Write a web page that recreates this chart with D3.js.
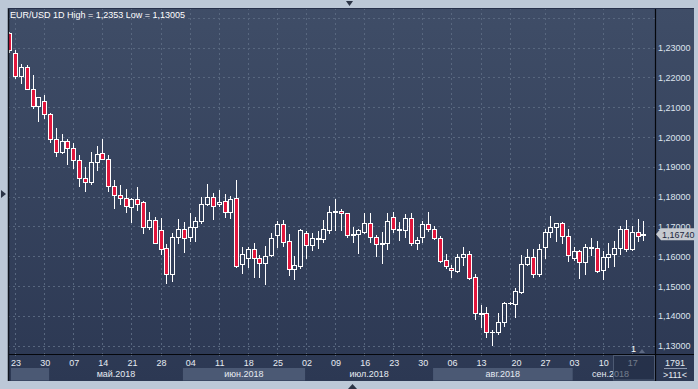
<!DOCTYPE html>
<html>
<head>
<meta charset="utf-8">
<script src="https://cdn.jsdelivr.net/npm/d3@7"></script>
<style>
  body { margin: 0; background: #bcc8d7; }
  svg { display: block; font-family: "Liberation Sans", Arial, sans-serif; }
</style>
</head>
<body>
<svg id="chart" width="698" height="389"></svg>
<script>
// EUR/USD daily candles, 20 Apr - 19 Sep 2018
var openP = [1.2348,1.2281,1.2205,1.2234,1.2163,1.2105,1.2122,1.2079,1.1995,1.1950,
  1.1987,1.1962,1.1923,1.1864,1.1850,1.1915,1.1948,1.1928,1.1836,1.1807,
  1.1797,1.1766,1.1792,1.1781,1.1697,1.1721,1.1688,1.1626,1.1539,1.1663,
  1.1693,1.1663,1.1699,1.1718,1.1774,1.1799,1.1774,1.1785,1.1747,1.1794,
  1.1573,1.1595,1.1624,1.1593,1.1576,1.1604,1.1670,1.1708,1.1652,1.1556,
  1.1568,1.1677,1.1638,1.1657,1.1657,1.1688,1.1747,1.1751,1.1744,1.1671,
  1.1674,1.1682,1.1713,1.1663,1.1640,1.1643,1.1732,1.1693,1.1688,1.1730,
  1.1643,1.1663,1.1707,1.1693,1.1660,1.1587,1.1562,1.1552,1.1596,1.1609,
  1.1529,1.1407,1.1408,1.1344,1.1346,1.1378,1.1442,1.1438,1.1481,1.1573,
  1.1598,1.1539,1.1630,1.1680,1.1697,1.1710,1.1668,1.1593,1.1618,1.1581,
  1.1628,1.1626,1.1553,1.1596,1.1606,1.1626,1.1690,1.1624,1.1682,1.1670];
var highP = [1.2353,1.2292,1.2245,1.2241,1.2210,1.2135,1.2141,1.2081,1.2032,1.2010,
  1.1995,1.1979,1.1939,1.1898,1.1950,1.1971,1.1995,1.1939,1.1855,1.1839,
  1.1825,1.1795,1.1831,1.1785,1.1749,1.1732,1.1730,1.1641,1.1677,1.1725,
  1.1715,1.1746,1.1732,1.1799,1.1842,1.1811,1.1822,1.1808,1.1802,1.1855,
  1.1630,1.1632,1.1646,1.1604,1.1634,1.1679,1.1718,1.1721,1.1674,1.1600,
  1.1691,1.1685,1.1677,1.1684,1.1721,1.1768,1.1791,1.1760,1.1745,1.1697,
  1.1691,1.1746,1.1744,1.1671,1.1682,1.1744,1.1749,1.1715,1.1741,1.1744,
  1.1665,1.1719,1.1747,1.1701,1.1667,1.1609,1.1570,1.1606,1.1630,1.1618,
  1.1540,1.1436,1.1428,1.1354,1.1408,1.1447,1.1445,1.1495,1.1604,1.1623,
  1.1623,1.1641,1.1693,1.1735,1.1712,1.1715,1.1690,1.1630,1.1620,1.1641,
  1.1660,1.1651,1.1618,1.1646,1.1651,1.1701,1.1721,1.1701,1.1725,1.1718];
var lowP = [1.2285,1.2197,1.2183,1.2161,1.2096,1.2054,1.2065,1.1982,1.1937,1.1945,
  1.1911,1.1897,1.1836,1.1820,1.1842,1.1889,1.1925,1.1820,1.1762,1.1775,
  1.1749,1.1715,1.1755,1.1677,1.1691,1.1643,1.1606,1.1509,1.1517,1.1643,
  1.1615,1.1652,1.1652,1.1712,1.1772,1.1725,1.1770,1.1732,1.1727,1.1564,
  1.1544,1.1564,1.1531,1.1531,1.1506,1.1600,1.1630,1.1634,1.1537,1.1523,
  1.1559,1.1593,1.1620,1.1626,1.1648,1.1679,1.1688,1.1688,1.1663,1.1648,
  1.1611,1.1677,1.1648,1.1600,1.1576,1.1624,1.1682,1.1654,1.1663,1.1637,
  1.1623,1.1648,1.1685,1.1658,1.1581,1.1559,1.1529,1.1548,1.1572,1.1524,
  1.1388,1.1363,1.1330,1.13005,1.1338,1.1366,1.1440,1.1395,1.1478,1.1570,
  1.1529,1.1534,1.1595,1.1663,1.1652,1.1643,1.1585,1.1587,1.1528,1.1542,
  1.1604,1.1548,1.1523,1.1564,1.1568,1.1609,1.1618,1.1620,1.1651,1.1654];
var closeP = [1.2292,1.2205,1.2234,1.2163,1.2105,1.2133,1.2079,1.1995,1.1950,1.1987,
  1.1962,1.1923,1.1864,1.1850,1.1915,1.1943,1.1928,1.1836,1.1807,1.1797,
  1.1769,1.1792,1.1777,1.1697,1.1721,1.1646,1.1624,1.1539,1.1663,1.1693,
  1.1660,1.1699,1.1718,1.1775,1.1799,1.1769,1.1783,1.1747,1.1791,1.1568,
  1.1609,1.1624,1.1593,1.1576,1.1601,1.1660,1.1708,1.1648,1.1556,1.1570,
  1.1688,1.1638,1.1660,1.1660,1.1690,1.1747,1.1751,1.1744,1.1671,1.1674,
  1.1688,1.1713,1.1663,1.1640,1.1643,1.1719,1.1693,1.1688,1.1730,1.1643,
  1.1656,1.1707,1.1690,1.1660,1.1585,1.1568,1.1553,1.1596,1.1609,1.1526,
  1.1410,1.1408,1.1344,1.1345,1.1378,1.1442,1.1443,1.1483,1.1573,1.1596,
  1.1539,1.1623,1.1680,1.1697,1.1710,1.1668,1.1604,1.1618,1.1581,1.1630,
  1.1630,1.1551,1.1596,1.1607,1.1626,1.1690,1.1623,1.1682,1.1668,1.1674];

// week ticks (candle index) and their labels
var tickIdx = [1,6,11,16,21,26,31,36,41,46,51,56,61,66,71,76,81,87,92,97,102,107];
var tickLbl = ["23","30","07","14","21","28","04","11","18","25","02","09","16","23","30","06","13","20","27","03","10","17"];
var gridIdx = [1,6,11,16,21,26,31,36,41,46,51,56,61,66,71,76,81,86,92,97,102,107];
// months: first candle index of each
var monthStart = [0,7,30,51,73,97];
var monthLbl = ["","май.2018","июн.2018","июл.2018","авг.2018","сен.2018"];

var priceTicks = [1.13,1.14,1.15,1.16,1.17,1.18,1.19,1.20,1.21,1.22,1.23];
var gridPrices = [1.13,1.14,1.15,1.16,1.17,1.18,1.19,1.20,1.21,1.22,1.23,1.24];
var lastPrice = 1.16740;
var titleText = "EUR/USD 1D High = 1,2353 Low = 1,13005";

var plotL = 8, plotR = 655, plotT = 8, plotB = 354, panelR = 694, panelB = 381;
var n = openP.length;
var fmt = function(v) { return v.toFixed(5).replace(".", ","); };

var x = d3.scaleLinear().domain([0, n - 1]).range([9.3, 643.4]);
var y = d3.scaleLinear().domain([1.13, 1.23]).range([345.6, 47.7]);
var step = x(1) - x(0);

var svg = d3.select("#chart");
var defs = svg.append("defs");
var grad = defs.append("linearGradient").attr("id", "bg")
    .attr("gradientUnits", "userSpaceOnUse")
    .attr("x1", 0).attr("y1", plotT).attr("x2", 0).attr("y2", panelB);
grad.append("stop").attr("offset", 0).attr("stop-color", "#3f4d67");
grad.append("stop").attr("offset", 1).attr("stop-color", "#2c3853");
defs.append("clipPath").attr("id", "plotClip")
  .append("rect").attr("x", plotL + 1).attr("y", plotT).attr("width", plotR - plotL - 1).attr("height", plotB - plotT);

// outer frame and panel
svg.append("rect").attr("width", 698).attr("height", 389).attr("fill", "#bcc8d7");
svg.append("rect").attr("x", plotL).attr("y", plotT).attr("width", panelR - plotL).attr("height", panelB - plotT)
    .attr("fill", "url(#bg)");

// grid
var grid = svg.append("g").attr("clip-path", "url(#plotClip)")
    .attr("stroke", "#58677f").attr("stroke-width", 1).attr("stroke-dasharray", "2,3");
grid.selectAll(".h").data(gridPrices).enter().append("line")
    .attr("x1", plotL).attr("x2", plotR)
    .attr("y1", function(d) { return Math.round(y(d)) + 0.5; })
    .attr("y2", function(d) { return Math.round(y(d)) + 0.5; });
grid.selectAll(".v").data(gridIdx).enter().append("line")
    .attr("y1", plotT).attr("y2", plotB)
    .attr("x1", function(d) { return Math.round(x(d)) + 0.5; })
    .attr("x2", function(d) { return Math.round(x(d)) + 0.5; });
// grid continues into the date strip
var grid2 = svg.append("g").attr("stroke", "#58677f").attr("stroke-dasharray", "2,3");
grid2.selectAll("line").data(gridIdx).enter().append("line")
    .attr("y1", plotB).attr("y2", plotB + 2)
    .attr("x1", function(d) { return Math.round(x(d)) + 0.5; })
    .attr("x2", function(d) { return Math.round(x(d)) + 0.5; });

// candles
var candles = svg.append("g").attr("clip-path", "url(#plotClip)");
var idx = d3.range(n);
candles.selectAll(".wick").data(idx).enter().append("line")
    .attr("stroke", "#ffffff").attr("stroke-width", 1)
    .attr("x1", function(i) { return Math.round(x(i)) + 0.5; })
    .attr("x2", function(i) { return Math.round(x(i)) + 0.5; })
    .attr("y1", function(i) { return Math.round(y(highP[i])); })
    .attr("y2", function(i) { return Math.round(y(lowP[i])) + 1; });
candles.selectAll(".body").data(idx).enter().append("rect")
    .attr("x", function(i) { return Math.round(x(i)) - 2 + 0.5; })
    .attr("width", 4)
    .attr("y", function(i) { return Math.round(y(Math.max(openP[i], closeP[i]))) + 0.5; })
    .attr("height", function(i) {
      var t = Math.round(y(Math.max(openP[i], closeP[i])));
      var b = Math.round(y(Math.min(openP[i], closeP[i])));
      return Math.max(b - t, 0.01);
    })
    .attr("fill", function(i) { return closeP[i] < openP[i] ? "#e2163c" : "url(#bg)"; })
    .attr("stroke", "#ffffff").attr("stroke-width", 1);

// separators
svg.append("line").attr("x1", plotL).attr("x2", panelR).attr("y1", plotB + 0.5).attr("y2", plotB + 0.5)
    .attr("stroke", "#05070c").attr("stroke-width", 1.2);
svg.append("line").attr("x1", plotR + 0.5).attr("x2", plotR + 0.5).attr("y1", plotT).attr("y2", panelB)
    .attr("stroke", "#05070c").attr("stroke-width", 1.2);
svg.append("line").attr("x1", plotL + 0.5).attr("x2", plotL + 0.5).attr("y1", plotT).attr("y2", panelB)
    .attr("stroke", "#10151f").attr("stroke-width", 1.5);
svg.append("line").attr("x1", plotL).attr("x2", panelR).attr("y1", plotT + 0.5).attr("y2", plotT + 0.5)
    .attr("stroke", "#26304a").attr("stroke-width", 1);

// month bands
var monthEnd = monthStart.slice(1).map(function(s) { return s - 1; }).concat([n - 1]);
var bands = monthStart.map(function(s, k) {
  var x0 = Math.max(x(s) - step / 2, plotL + 1);
  var x1 = Math.min(x(monthEnd[k]) + step / 2, plotR);
  return { x0: x0, x1: x1, lbl: monthLbl[k], shade: k % 2 === 0 };
});
svg.append("g").selectAll("rect").data(bands.filter(function(b) { return b.shade; })).enter().append("rect")
    .attr("x", function(b) { return b.x0 + 2; })
    .attr("width", function(b) { return b.x1 - b.x0; })
    .attr("y", 368).attr("height", 12.5)
    .attr("fill", "#4b5974");

// date labels
svg.append("g").selectAll("text").data(tickIdx).enter().append("text")
    .attr("x", function(d) { return x(d) + 1; })
    .attr("y", 366)
    .attr("text-anchor", "middle")
    .attr("font-size", 9)
    .attr("fill", "#e6ebf2")
    .text(function(d, k) { return tickLbl[k]; });
svg.append("g").selectAll("text").data(bands.filter(function(b) { return b.lbl; })).enter().append("text")
    .attr("x", function(b) { return (b.x0 + b.x1) / 2 + 2; })
    .attr("y", 377)
    .attr("text-anchor", "middle")
    .attr("font-size", 9)
    .attr("fill", "#e6ebf2")
    .text(function(b) { return b.lbl; });

// dim overlay on the last week cell
svg.append("rect").attr("x", 613.5).attr("y", plotB + 1.5).attr("width", plotR - 614).attr("height", panelB - plotB - 2.5)
    .attr("fill", "#222d45").attr("fill-opacity", 0.6)
    .attr("stroke", "#4d5a73").attr("stroke-width", 1);

// price axis
svg.append("g").selectAll("text").data(priceTicks).enter().append("text")
    .attr("x", 658)
    .attr("y", function(d) { return y(d) + 3.5; })
    .attr("font-size", 9)
    .attr("fill", "#dde4ee")
    .text(fmt);

// last price marker
var ly = y(lastPrice);
svg.append("path")
    .attr("d", "M656," + ly + "L661," + (ly - 6) + "L" + panelR + "," + (ly - 6) + "L" + panelR + "," + (ly + 6) + "L661," + (ly + 6) + "Z")
    .attr("fill", "#c6cad0");
svg.append("text").attr("x", 662).attr("y", ly + 3.5).attr("font-size", 9).attr("fill", "#1b2640")
    .text(fmt(lastPrice));

// corner cell
svg.append("text").attr("x", 675).attr("y", 366).attr("text-anchor", "middle").attr("font-size", 9)
    .attr("fill", "#e6ebf2").text("1791");
svg.append("line").attr("x1", 664).attr("x2", 687).attr("y1", 368.5).attr("y2", 368.5).attr("stroke", "#8e9ab0");
svg.append("text").attr("x", 675).attr("y", 378).attr("text-anchor", "middle").attr("font-size", 9)
    .attr("fill", "#e6ebf2").text(">111<");

// title
svg.append("text").attr("x", 10).attr("y", 18).attr("font-size", 9).attr("fill", "#ffffff").text(titleText);

// little markers
svg.append("text").attr("x", 631).attr("y", 352).attr("font-size", 9).attr("fill", "#ffffff").text("1");
svg.append("path").attr("d", "M639,353L642,349L645,353Z").attr("fill", "#5d6982");
svg.append("path").attr("d", "M346,1L353,1L349.5,6Z").attr("fill", "#2b3446");
svg.append("path").attr("d", "M1,190L6,194L1,198Z").attr("fill", "#2b3446");
svg.append("path").attr("d", "M348,389L352.5,384L357,389Z").attr("fill", "#2b3446");
</script>
</body>
</html>
